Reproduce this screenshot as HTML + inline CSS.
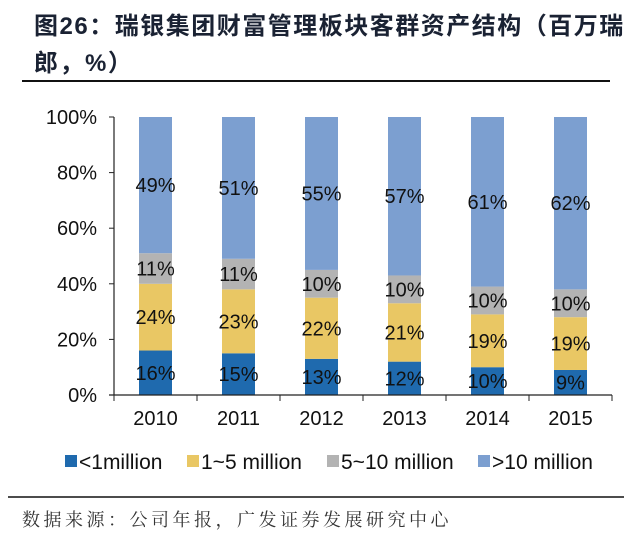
<!DOCTYPE html>
<html><head><meta charset="utf-8"><style>
body{margin:0;background:#fff;width:640px;height:540px;overflow:hidden;font-family:"Liberation Sans","Noto Sans CJK SC",sans-serif;}
#title{position:absolute;left:34px;top:8px;width:600px;font-size:24px;font-weight:bold;color:#1a2233;line-height:37px;font-family:"Liberation Sans","Noto Sans CJK SC",sans-serif;letter-spacing:1.5px;white-space:nowrap}
#src{position:absolute;left:22px;top:506px;font-size:18px;color:#333;font-family:"Liberation Serif","Noto Serif CJK SC",serif;letter-spacing:3.5px}
</style></head><body>
<div id="title">图26：瑞银集团财富管理板块客群资产结构（百万瑞<br>郎，%）</div>
<svg id="chart" width="640" height="540" style="position:absolute;left:0;top:0">
<line x1="22" y1="81" x2="610" y2="81" stroke="#111" stroke-width="2"/>
<line x1="8" y1="497" x2="624" y2="497" stroke="#111" stroke-width="1.5"/>
<g id="plot"></g>
</svg>
<div id="src">数据来源：公司年报，广发证券发展研究中心</div>
<script>
const categories=["2010","2011","2012","2013","2014","2015"];
const s1=[16,15,13,12,10,9];
const s2=[24,23,22,21,19,19];
const s3=[11,11,10,10,10,10];
const s4=[49,51,55,57,61,62];
const seriesNames=["<1million","1~5 million","5~10 million",">10 million"];
const colors=["#1f6aae","#e9c764","#b3b3b3","#7c9fd0"];
const yTicks=[0,20,40,60,80,100];
const NS="http://www.w3.org/2000/svg";
const g=document.getElementById('plot');
const L=114,R=612,T=117,B=395;
const step=(R-L)/categories.length, bw=33;
const y=v=>B-(B-T)*v/100;
const xc=i=>L+step*(i+0.5);
function mk(t,a){const e=document.createElementNS(NS,t);for(const k in a)e.setAttribute(k,a[k]);g.appendChild(e);return e;}
const series=[s1,s2,s3,s4];
categories.forEach((c,i)=>{
  let acc=0;
  series.forEach((s,k)=>{
    const v=s[i];
    const r=mk('rect',{x:xc(i)-bw/2,y:y(acc+v),width:bw,height:y(acc)-y(acc+v),fill:colors[k]});
    
    
    const t=mk('text',{x:xc(i),y:y(acc+v/2)+7,'text-anchor':'middle','font-size':20,fill:'#111'});
    t.textContent=v+'%';
    
    
    acc+=v;
  });
  const xl=mk('text',{x:xc(i),y:425,'text-anchor':'middle','font-size':20,fill:'#111'});
  xl.textContent=c;
  
  
});
const ya=mk('line',{x1:L,y1:T,x2:L,y2:B,stroke:'#222','stroke-width':1.2});


const xa=mk('line',{x1:L-5,y1:B,x2:R,y2:B,stroke:'#222','stroke-width':1.2});


yTicks.forEach(v=>{
  mk('line',{x1:L-5,y1:y(v),x2:L,y2:y(v),stroke:'#222'});
  const t=mk('text',{x:L-17,y:y(v)+7,'text-anchor':'end','font-size':20,fill:'#111'});
  t.textContent=v+'%';
  
  
});
for(let i=0;i<=categories.length;i++) mk('line',{x1:L+step*i,y1:B,x2:L+step*i,y2:B+6,stroke:'#222'});
const lx=[65,187,327,478];
seriesNames.forEach((n,k)=>{
  const r=mk('rect',{x:lx[k],y:455,width:12,height:12,fill:colors[k]});
  
  
  const t=mk('text',{x:lx[k]+14,y:469,'font-size':21,fill:'#111'});
  t.textContent=n;
  
  
});
</script>
</body></html>
